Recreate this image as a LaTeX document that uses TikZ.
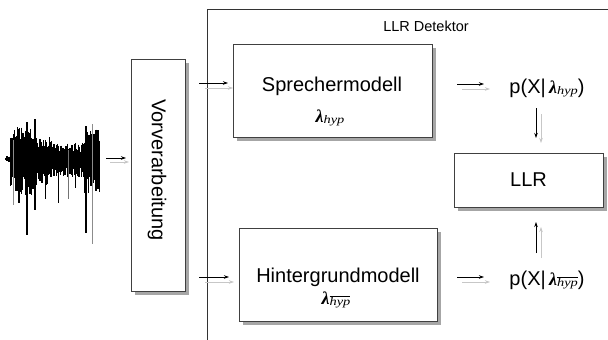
\documentclass[tikz,border=0pt]{standalone}
\usepackage{fontspec}
\setmainfont{Liberation Sans}
\newfontfamily\lamfont{Liberation Serif}
\usetikzlibrary{arrows.meta,backgrounds}
\newcommand{\mylam}{{\lamfont\fontsize{18}{18}\selectfont\bfseries\itshape λ}}
\newcommand{\myhyp}{\scalebox{1.25}[1]{\lamfont\fontsize{11.5}{11.5}\selectfont\itshape hyp}}
\newcommand{\lamhyp}{\mylam\raisebox{-1pt}{\myhyp}}
\newcommand{\lamhypbar}{\mylam\raisebox{-1pt}{$\overline{\hbox{\myhyp}}$}}
\begin{document}
\begin{tikzpicture}[x=1pt,y=-1pt,
  box/.style={draw=black!75,line width=0.8pt,fill=white,inner sep=0pt},
  shadow/.style={fill=black!35},
  big/.style={font=\fontsize{20}{20}\selectfont,inner sep=0pt},
  blk/.style={draw=black,line width=0.8pt,-{Stealth[length=5pt,width=3.5pt]}},
  gry/.style={draw=black!22,line width=0.8pt,-{Stealth[length=5pt,width=3.5pt]}},
  frame/.style={draw=black!80,line width=0.8pt}]
\useasboundingbox (0,0) rectangle (608,340);

% LLR Detektor frame
\coordinate (fb) at (207,340);
\coordinate (fc) at (207,9);
\coordinate (fr) at (609,9);
\draw[frame] (fb) -- (fc) -- (fr);
\node[font=\fontsize{14.5}{14.5}\selectfont,inner sep=0pt] (det) at (426,26) {LLR Detektor};

% boxes
\node[box,minimum width=54pt,minimum height=232pt] (vor) at (158,175) {};
\node[big,rotate=-90] (vortxt) at (157,170) {Vorverarbeitung};
\node[box,minimum width=199pt,minimum height=93pt] (spr) at (332.5,90.5) {};
\node[big] (sprtxt) at (332,86) {Sprechermodell};
\node[inner sep=0pt] (sprlam) at (330,118) {\lamhyp};
\node[box,minimum width=198pt,minimum height=93pt] (hin) at (338,274.5) {};
\node[big] (hintxt) at (338,277) {Hintergrundmodell};
\node[inner sep=0pt] (hinlam) at (336,300) {\lamhypbar};
\node[box,minimum width=149pt,minimum height=54pt] (llr) at (528.5,180) {};
\node[big] (llrtxt) at (528.5,180) {LLR};
\node[big] (ptop) at (547,88) {p(X|\,\lamhyp)};
\node[big] (pbot) at (547,280) {p(X|\,\lamhypbar)};

\begin{scope}[on background layer]
  \fill[white] (0,0) rectangle (608,340);
  \foreach \n in {vor,spr,hin,llr}{
    \fill[shadow] ([xshift=4pt,yshift=-4pt]\n.south west) rectangle ([xshift=4pt,yshift=-4pt]\n.north east);
  }
\end{scope}

% waveform
\pgfmathsetseed{7}
\draw[line width=1.6pt] (5,159) -- (100,159);
\foreach \x in {7,7.7,...,100}{
  \pgfmathsetmacro\env{(\x<10)?3:((\x<33)?32:((\x<52)?23:((\x<84)?16:30)))}
  \pgfmathsetmacro\up{\env*(0.45+0.55*rnd)}
  \pgfmathsetmacro\dn{\env*(0.45+0.7*rnd)}
  \draw[line width=1.3pt] (\x,{159-\up}) -- (\x,{159+\dn});
}
\draw[line width=1.2pt] (27,122) -- (27,235);
\draw[line width=1.2pt] (35,119) -- (35,210);
\draw[line width=1.2pt] (19,130) -- (19,203);
\draw[line width=1pt] (45,140) -- (45,199);
\draw[line width=1pt] (58,148) -- (58,203);
\draw[line width=1pt,black!55] (68,150) -- (68,199);
\draw[line width=1pt] (75,143) -- (75,188);
\draw[line width=1.2pt] (86,126) -- (86,233);
\draw[line width=0.9pt,black!45] (92,124) -- (92,244);
\draw[line width=0.9pt,black!45] (13,140) -- (13,205);

% arrows
\coordinate (a1s) at (106,158); \coordinate (a1e) at (126,158);
\coordinate (a1gs) at (110,162); \coordinate (a1ge) at (129,162);
\draw[blk] (a1s) -- (a1e); \draw[gry] (a1gs) -- (a1ge);

\coordinate (a2s) at (199,83); \coordinate (a2e) at (228,83);
\coordinate (a2gs) at (205,88); \coordinate (a2ge) at (233,88);
\draw[blk] (a2s) -- (a2e); \draw[gry] (a2gs) -- (a2ge);

\coordinate (a3s) at (199,277); \coordinate (a3e) at (229,277);
\coordinate (a3gs) at (205,282); \coordinate (a3ge) at (234,282);
\draw[blk] (a3s) -- (a3e); \draw[gry] (a3gs) -- (a3ge);

\coordinate (a4s) at (457,84); \coordinate (a4e) at (484,84);
\coordinate (a4gs) at (462,89); \coordinate (a4ge) at (490,89);
\draw[blk] (a4s) -- (a4e); \draw[gry] (a4gs) -- (a4ge);

\coordinate (a5s) at (457,277); \coordinate (a5e) at (484,277);
\coordinate (a5gs) at (462,282); \coordinate (a5ge) at (490,282);
\draw[blk] (a5s) -- (a5e); \draw[gry] (a5gs) -- (a5ge);

\coordinate (a6s) at (536,108); \coordinate (a6e) at (536,138);
\coordinate (a6gs) at (541,114); \coordinate (a6ge) at (541,143);
\draw[blk] (a6s) -- (a6e); \draw[gry] (a6gs) -- (a6ge);

\coordinate (a7s) at (536,253); \coordinate (a7e) at (536,222);
\coordinate (a7gs) at (541,258); \coordinate (a7ge) at (541,227);
\draw[blk] (a7s) -- (a7e); \draw[gry] (a7gs) -- (a7ge);
\end{tikzpicture}
\end{document}
